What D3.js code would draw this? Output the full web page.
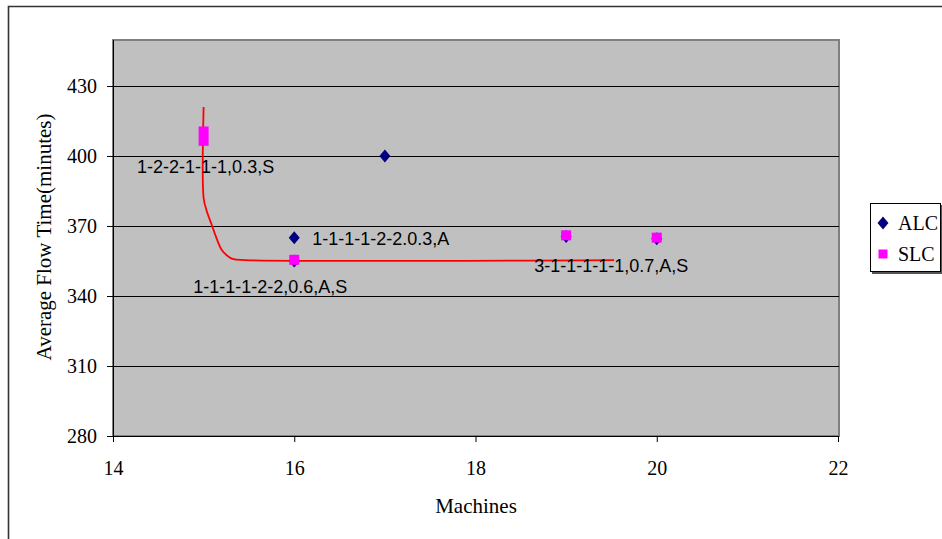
<!DOCTYPE html>
<html>
<head>
<meta charset="utf-8">
<script src="https://cdn.jsdelivr.net/npm/d3@7"></script>
<style>
  html, body { margin: 0; padding: 0; background: #fff; }
  svg { display: block; }
</style>
</head>
<body>
<svg id="chart" width="942" height="539"></svg>
<script>
// Average flow time vs. number of machines for ALC and SLC configurations
const alcMachines = [16, 16, 17, 19, 20];
const alcFlowTime = [365, 355, 400, 365.5, 364.5];

const slcMachines = [15, 15, 16, 19, 20];
const slcFlowTime = [410.5, 406.5, 355.5, 366, 365];

// Efficient frontier curve
const frontierMachines = [15, 15, 15.03, 15.09, 15.14, 15.2, 15.26, 15.32, 15.46, 19.53];
const frontierFlowTime = [421, 382, 377, 370.4, 365, 359.7, 357.3, 355.9, 355.4, 355.4];

// Configuration labels, attached to a series point
const labelTexts = ["1-2-2-1-1-1,0.3,S", "1-1-1-1-2-2.0.3,A", "1-1-1-1-2-2,0.6,A,S", "3-1-1-1-1-1,0.7,A,S"];
const labelSeries = ["SLC", "ALC", "SLC", "SLC"];
const labelIndex = [1, 0, 2, 3];

const xTicks = [14, 16, 18, 20, 22];
const yTicks = [280, 310, 340, 370, 400, 430];
const seriesNames = ["ALC", "SLC"];

const svg = d3.select("#chart");

const plot = { left: 113, right: 839, top: 40, bottom: 436 };
const x = d3.scaleLinear().domain([14, 22]).range([plot.left, plot.right - 1]);
const y = d3.scaleLinear().domain([280, 450]).range([plot.bottom, 39.3]);

// Outer frame
svg.append("path")
  .attr("d", `M8.5,539 L8.5,6.5 L942,6.5`)
  .attr("fill", "none").attr("stroke", "#333").attr("stroke-width", 1.6);

// Plot background
svg.append("rect")
  .attr("x", plot.left).attr("y", plot.top)
  .attr("width", plot.right - plot.left).attr("height", plot.bottom - plot.top)
  .attr("fill", "#c0c0c0")
  .attr("stroke", "#808080").attr("stroke-width", 2);

// Gridlines
svg.append("g").selectAll("line")
  .data(yTicks.filter(d => d > 280))
  .join("line")
  .attr("x1", plot.left).attr("x2", plot.right)
  .attr("y1", d => Math.round(y(d)) + 0.5).attr("y2", d => Math.round(y(d)) + 0.5)
  .attr("stroke", "#000").attr("stroke-width", 1);

// Y axis
const yAxis = svg.append("g")
  .attr("transform", `translate(${plot.left},0)`)
  .call(d3.axisLeft(y).tickValues(yTicks).tickSize(6).tickPadding(10).tickFormat(d3.format("d")));
yAxis.select(".domain").attr("d", `M0.5,${plot.top}V${plot.bottom}`).attr("stroke", "#000");
yAxis.selectAll(".tick line").attr("stroke", "#000");
yAxis.selectAll(".tick text")
  .attr("font-family", "'Liberation Serif', 'Times New Roman', serif")
  .attr("font-size", 20).attr("fill", "#000");

// X axis
const xAxis = svg.append("g")
  .attr("transform", `translate(0,${plot.bottom})`)
  .call(d3.axisBottom(x).tickValues(xTicks).tickSize(6).tickPadding(19).tickFormat(d3.format("d")));
xAxis.select(".domain").attr("d", `M${plot.left},0.5H${plot.right}`).attr("stroke", "#000");
xAxis.selectAll(".tick line").attr("stroke", "#000");
xAxis.selectAll(".tick text")
  .attr("font-family", "'Liberation Serif', 'Times New Roman', serif")
  .attr("font-size", 20).attr("fill", "#000");

// Axis titles
svg.append("text")
  .attr("x", 476).attr("y", 513)
  .attr("text-anchor", "middle")
  .attr("font-family", "'Liberation Serif', 'Times New Roman', serif")
  .attr("font-size", 21)
  .text("Machines");

svg.append("text")
  .attr("transform", "translate(51,237) rotate(-90)")
  .attr("text-anchor", "middle")
  .attr("font-family", "'Liberation Serif', 'Times New Roman', serif")
  .attr("font-size", 21)
  .text("Average Flow Time(minutes)");

// Frontier line
const frontier = frontierMachines.map((m, i) => [m, frontierFlowTime[i]]);
svg.append("path")
  .datum(frontier)
  .attr("fill", "none")
  .attr("stroke", "#ff0000")
  .attr("stroke-width", 1.8)
  .attr("d", d3.line().x(d => x(d[0])).y(d => y(d[1])).curve(d3.curveCatmullRom.alpha(0.5)));

// Markers
const diamond = "M0,-6.5L5.5,0L0,6.5L-5.5,0Z";
const alc = alcMachines.map((m, i) => ({ m, v: alcFlowTime[i] }));
const slc = slcMachines.map((m, i) => ({ m, v: slcFlowTime[i] }));

svg.append("g").selectAll("path")
  .data(alc)
  .join("path")
  .attr("d", diamond)
  .attr("transform", d => `translate(${x(d.m)},${y(d.v)})`)
  .attr("fill", "#000080");

svg.append("g").selectAll("rect")
  .data(slc)
  .join("rect")
  .attr("x", d => x(d.m) - 5).attr("y", d => y(d.v) - 5)
  .attr("width", 10).attr("height", 10)
  .attr("fill", "#ff00ff");

// Configuration labels
const labelOffsets = [
  { dx: 2, dy: 32, anchor: "middle" },
  { dx: 18, dy: 7, anchor: "start" },
  { dx: -24, dy: 33, anchor: "middle" },
  { dx: -32, dy: 37, anchor: "start" }
];
svg.append("g").selectAll("text")
  .data(labelTexts.map((t, i) => {
    const src = labelSeries[i] === "ALC" ? alc : slc;
    const p = src[labelIndex[i]];
    return { t, px: x(p.m), py: y(p.v), o: labelOffsets[i] };
  }))
  .join("text")
  .attr("x", d => d.px + d.o.dx)
  .attr("y", d => d.py + d.o.dy)
  .attr("text-anchor", d => d.o.anchor)
  .attr("font-family", "'Liberation Sans', Arial, sans-serif")
  .attr("font-size", 18)
  .attr("fill", "#000")
  .text(d => d.t);

// Legend
const legend = svg.append("g").attr("transform", "translate(870,203)");
legend.append("rect")
  .attr("x", 2).attr("y", 2).attr("width", 70).attr("height", 69)
  .attr("fill", "#555");
legend.append("rect")
  .attr("x", 0.5).attr("y", 0.5).attr("width", 70).attr("height", 68)
  .attr("fill", "#fff").attr("stroke", "#000").attr("stroke-width", 1);

const legendRows = legend.selectAll("g.row")
  .data(seriesNames)
  .join("g")
  .attr("class", "row")
  .attr("transform", (d, i) => `translate(13,${20 + i * 31})`);

legendRows.each(function (d) {
  const g = d3.select(this);
  if (d === "ALC") {
    g.append("path").attr("d", diamond).attr("fill", "#000080");
  } else {
    g.append("rect").attr("x", -4.5).attr("y", -4.5).attr("width", 9).attr("height", 9).attr("fill", "#ff00ff");
  }
  g.append("text")
    .attr("x", 15).attr("y", 7)
    .attr("font-family", "'Liberation Serif', 'Times New Roman', serif")
    .attr("font-size", 20)
    .text(d);
});
</script>
</body>
</html>
